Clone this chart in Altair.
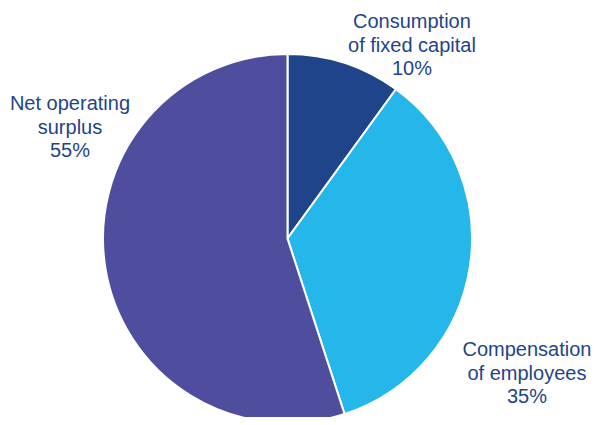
import altair as alt
import pandas as pd

categories = ["Consumption of fixed capital", "Compensation of employees", "Net operating surplus"]
label_lines = [["Consumption", "of fixed capital", "10%"],
               ["Compensation", "of employees", "35%"],
               ["Net operating", "surplus", "55%"]]
shares = [10, 35, 55]
colors = ["#1F4489", "#25B7EA", "#4F4E9E"]

df = pd.DataFrame({
    "category": categories,
    "share": shares,
    "order": list(range(len(categories))),
    "label": ["\n".join(l) for l in label_lines],
})

CX, CY, R = 279.5, 230.5, 184.5
color_scale = alt.Scale(domain=categories, range=colors)
theta_scale = alt.Scale(domain=[0, 100], range=[0, 6.283185307179586])

pie = alt.Chart(df).mark_arc(x=CX, y=CY, radius=R, stroke="white", strokeWidth=2).encode(
    theta=alt.Theta("share:Q", stack=True, scale=theta_scale),
    order=alt.Order("order:Q"),
    color=alt.Color("category:N", scale=color_scale, legend=None),
)

label_base = alt.Chart(df).transform_window(
    cum="sum(share)", sort=[alt.SortField("order")]
).transform_calculate(mid="datum.cum - datum.share / 2")

def label(cat, radius, dx, dy):
    return label_base.transform_filter(alt.datum.category == cat).mark_text(
        x=CX, y=CY, radius=radius, dx=dx, dy=dy,
        align="center", baseline="middle", lineBreak="\n", lineHeight=23.5,
        font="Liberation Sans", fontSize=20, color="#1F4489",
    ).encode(
        theta=alt.Theta("mid:Q", stack=None, scale=theta_scale),
        text="label:N",
    )

# offsets tuned to the reference layout
l1 = label(categories[0], 215, 58, -12)
l2 = label(categories[1], 250, -7.5, 72.5)
l3 = label(categories[2], 240, 19.5, -172)

chart = alt.layer(pie, l1, l2, l3).properties(
    width=585, height=409, padding=0, autosize=alt.AutoSizeParams(type="none")
).configure_view(stroke=None)

chart.save("out.html", embed_options={"renderer": "svg", "actions": False})
